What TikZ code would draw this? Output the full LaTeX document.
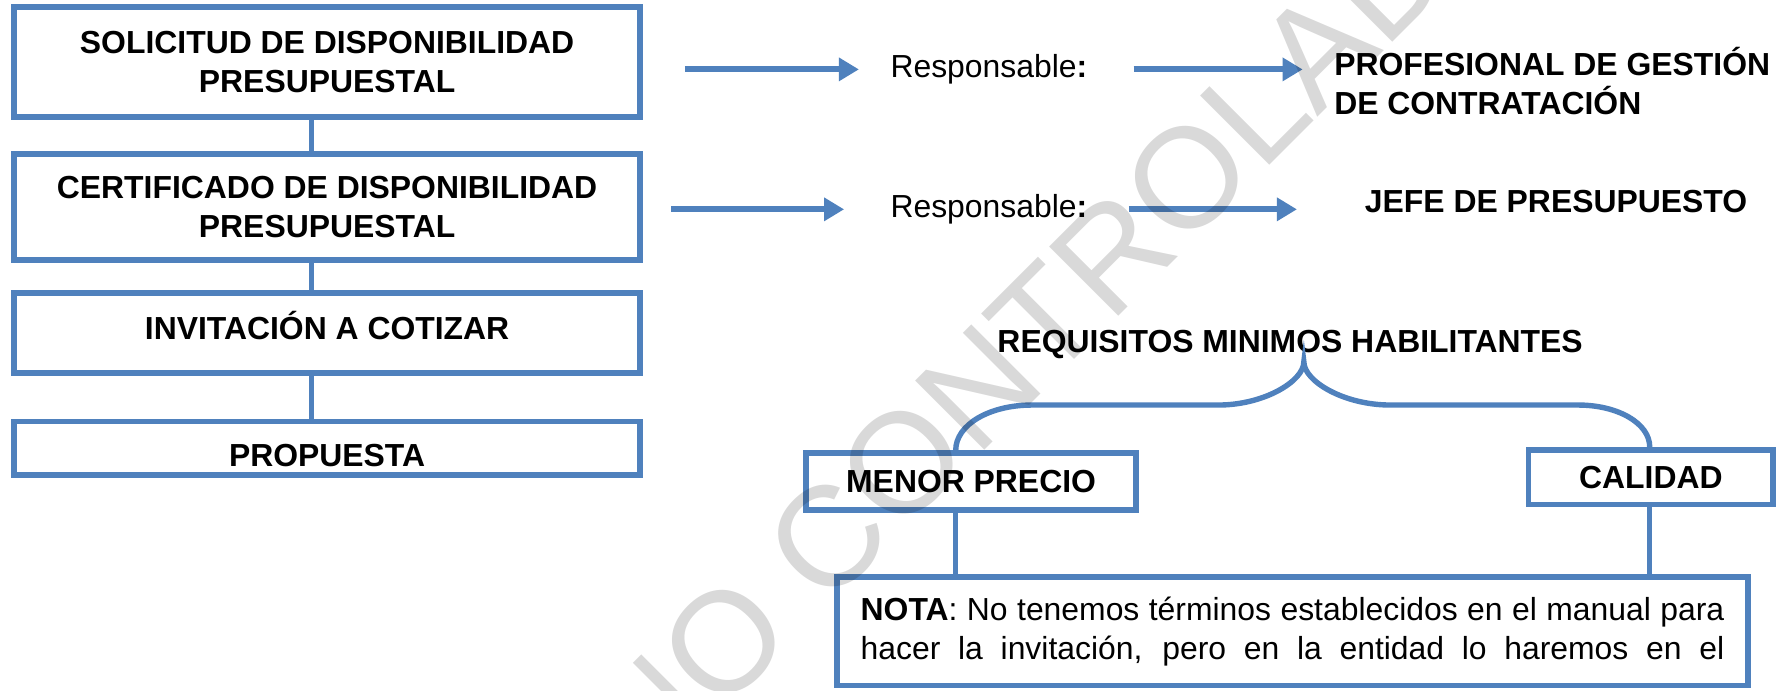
\documentclass[tikz,border=0pt]{standalone}
\usepackage{fontspec}
\setmainfont{Liberation Sans}
\usetikzlibrary{arrows.meta}
\definecolor{accblue}{HTML}{4F81BD}
\newlength\uu
\setlength\uu{0.01cm}
\begin{document}
\begin{tikzpicture}[x=0.01cm,y=-0.01cm,
  box/.style={draw=accblue, line width=1.45pt, rectangle, inner sep=0pt, align=center,
    font=\fontsize{7.97}{9.8}\selectfont\bfseries},
  conn/.style={draw=accblue, line width=1.35pt},
  arr/.style={draw=accblue, line width=1.5pt, -{Triangle[length=5pt,width=5.6pt]}},
  plain/.style={inner sep=0pt, anchor=west, font=\fontsize{7.97}{9.7}\selectfont},
  head/.style={inner sep=0pt, anchor=west, align=left, font=\fontsize{7.97}{9.7}\selectfont\bfseries},
  wm/.style={inner sep=0pt, rotate=45, anchor=base west, text=black, text opacity=0.15,
    font=\fontsize{35.56}{40}\selectfont}
]
\fill[white] (0,0) rectangle (1568,607);
\useasboundingbox (0,0) rectangle (1568,607);

% left column
\node[box, minimum width=550\uu, minimum height=96\uu] (b1) at (287.5,54.5) {SOLICITUD DE DISPONIBILIDAD\\PRESUPUESTAL};
\node[box, minimum width=550\uu, minimum height=93\uu] (b2) at (287.5,182) {CERTIFICADO DE DISPONIBILIDAD\\PRESUPUESTAL};
\node[box, minimum width=550\uu, minimum height=70\uu] (b3) at (287.5,292.5) {\raisebox{0pt}[\height][\dimexpr\depth+3.7pt\relax]{INVITACIÓN A COTIZAR}};
\node[box, minimum width=550\uu, minimum height=47\uu] (b4) at (287.5,394) {\raisebox{0pt}[\dimexpr\height+3.4pt\relax][\depth]{PROPUESTA}};
\coordinate (cx) at (274,0);
\draw[conn] (b1.south -| cx) -- (b2.north -| cx);
\draw[conn] (b2.south -| cx) -- (b3.north -| cx);
\draw[conn] (b3.south -| cx) -- (b4.north -| cx);

% responsables
\node[plain] (r1) at (782,61) {Responsable\textbf{:}};
\node[plain] (r2) at (782,184) {Responsable\textbf{:}};
\node[head] (p1) at (1172,71) {PROFESIONAL DE GESTIÓN\\DE CONTRATACIÓN};
\node[head] (p2) at (1199,177) {JEFE DE PRESUPUESTO};
\draw[arr, shorten <=10.5pt, shorten >=7.7pt] (b1.east |- r1.west) -- (r1.west);
\draw[arr, shorten <=11.4pt, shorten >=7.7pt] (r1.east) -- (r1.east -| p1.west);
\draw[arr, shorten <=7.1pt, shorten >=11.4pt] (b2.east |- r2.west) -- (r2.west);
\draw[arr, shorten <=10.2pt, shorten >=16.8pt] (r2.east) -- (r2.east -| p2.west);

% requisitos
\node[head] (req) at (876,303) {REQUISITOS MINIMOS HABILITANTES};
\node[box, minimum width=290\uu, minimum height=50\uu] (mp) at (853.5,423.5) {MENOR PRECIO};
\node[box, minimum width=215\uu, minimum height=48\uu] (cal) at (1451,419.5) {CALIDAD};
\node[box, font=\fontsize{7.97}{9.7}\selectfont, minimum width=801\uu, minimum height=95\uu] (nota) at (1136,555)
  {\makebox[759\uu][s]{\textbf{NOTA}: No tenemos términos establecidos en el manual para}\\
   \makebox[759\uu][s]{hacer la invitación, pero en la entidad lo haremos en el}};
\coordinate (lx) at (840,0);
\coordinate (rx) at (1450,0);
\draw[conn] (mp.north -| lx) .. controls (840,373) and (870,356) .. (907,356) -- (1071,356)
  .. controls (1111,356) and (1146,335) .. (1146,318)
  .. controls (1146,335) and (1181,356) .. (1222,356) -- (1387,356)
  .. controls (1422,356) and (1450,372) .. (cal.north -| rx);
\draw[conn] (mp.south -| lx) -- (nota.north -| lx);
\draw[conn] (cal.south -| rx) -- (nota.north -| rx);

% watermark
\node[wm] (wmk) at (268,993) {COPIA NO CONTROLADA};
\end{tikzpicture}
\end{document}
